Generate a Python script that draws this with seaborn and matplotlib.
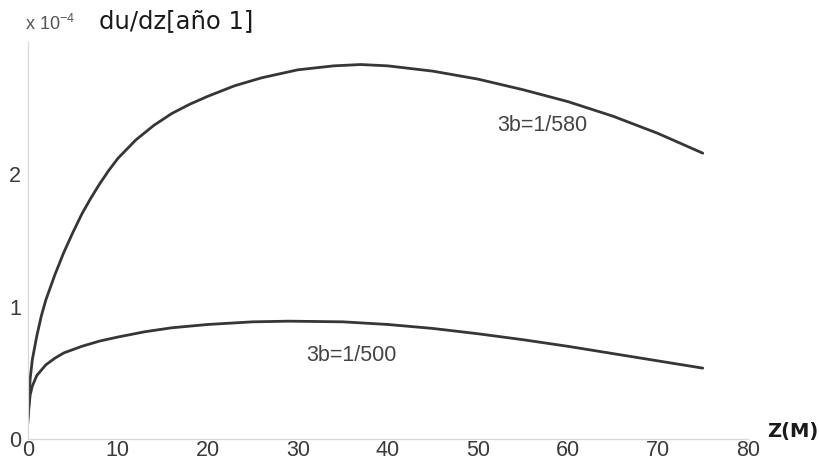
import numpy as np
import pandas as pd
import matplotlib
matplotlib.use('Agg')
import matplotlib.pyplot as plt
import seaborn as sns

# du/dz profiles, values in units of 1e-4
z_580 = [0, 0.25, 0.5, 1, 1.5, 2, 3, 4, 5, 6, 7, 8, 9, 10, 12, 14, 16, 18, 20, 23, 26, 30,
         34, 37, 40, 45, 50, 55, 60, 65, 70, 75]
dudz_580 = [0.12, 0.45, 0.60, 0.78, 0.93, 1.05, 1.24, 1.41, 1.56, 1.70, 1.82, 1.93, 2.03, 2.12,
            2.26, 2.37, 2.46, 2.53, 2.59, 2.67, 2.73, 2.79, 2.82, 2.83, 2.82, 2.78, 2.72, 2.64,
            2.55, 2.44, 2.31, 2.16]

z_500 = [0, 0.25, 0.5, 1, 2, 3, 4, 6, 8, 10, 13, 16, 20, 25, 29, 35, 40, 45, 50, 55, 60, 65, 70, 75]
dudz_500 = [0.15, 0.33, 0.40, 0.48, 0.56, 0.61, 0.65, 0.70, 0.74, 0.77, 0.81, 0.84, 0.865, 0.885,
            0.89, 0.885, 0.865, 0.835, 0.795, 0.75, 0.70, 0.645, 0.59, 0.535]

x_ticks = [0, 10, 20, 30, 40, 50, 60, 70, 80]
y_ticks = [0, 1, 2]

df = pd.concat([
    pd.DataFrame({"z": z_580, "dudz": np.array(dudz_580) * 1e-4, "serie": "3b=1/580"}),
    pd.DataFrame({"z": z_500, "dudz": np.array(dudz_500) * 1e-4, "serie": "3b=1/500"}),
])

sns.set_theme(style="white")
plt.rcParams['font.family'] = ['Liberation Sans', 'DejaVu Sans']

fig = plt.figure(figsize=(8.19, 4.62), dpi=100)
ax = fig.add_axes([0.034, 0.050, 0.879, 0.859])

sns.lineplot(data=df, x="z", y="dudz", units="serie", estimator=None, sort=False,
             color="#363636", linewidth=2.0, ax=ax, legend=False)

ax.set_xlim(0, 80)
ax.set_ylim(0, 3e-4)
ax.set_xticks(x_ticks)
ax.set_xticklabels([str(t) for t in x_ticks])
ax.set_yticks([t * 1e-4 for t in y_ticks])
ax.set_yticklabels([str(t) for t in y_ticks])
ax.tick_params(axis="both", direction="in", length=3, width=0.8, color="#888888",
               labelsize=15.5, labelcolor="#3a3a3a", pad=1)
ax.tick_params(axis="y", pad=5)

for side in ["top", "right"]:
    ax.spines[side].set_visible(False)
for side in ["left", "bottom"]:
    ax.spines[side].set_color("#d8d8d8")
    ax.spines[side].set_linewidth(0.9)

ax.set_xlabel("")
ax.set_ylabel("")

ax.text(57.2, 2.37e-4, "3b=1/580", fontsize=15.5, color="#444444",
        ha="center", va="center")
ax.text(36.0, 0.634e-4, "3b=1/500", fontsize=15.5, color="#444444",
        ha="center", va="center")

fig.text(0.031, 0.948, r"x 10$^{\mathregular{-4}}$", fontsize=13, color="#555555",
         ha="left", va="center")
fig.text(0.121, 0.955, "du/dz[año 1]", fontsize=17.5, color="#1a1a1a",
         family=["DejaVu Sans"], ha="left", va="center")
fig.text(0.968, 0.065, "Z(M)", fontsize=14, fontweight="bold", color="#1a1a1a",
         family=["DejaVu Sans"], ha="center", va="center")

fig.savefig("out.png", dpi=100)
